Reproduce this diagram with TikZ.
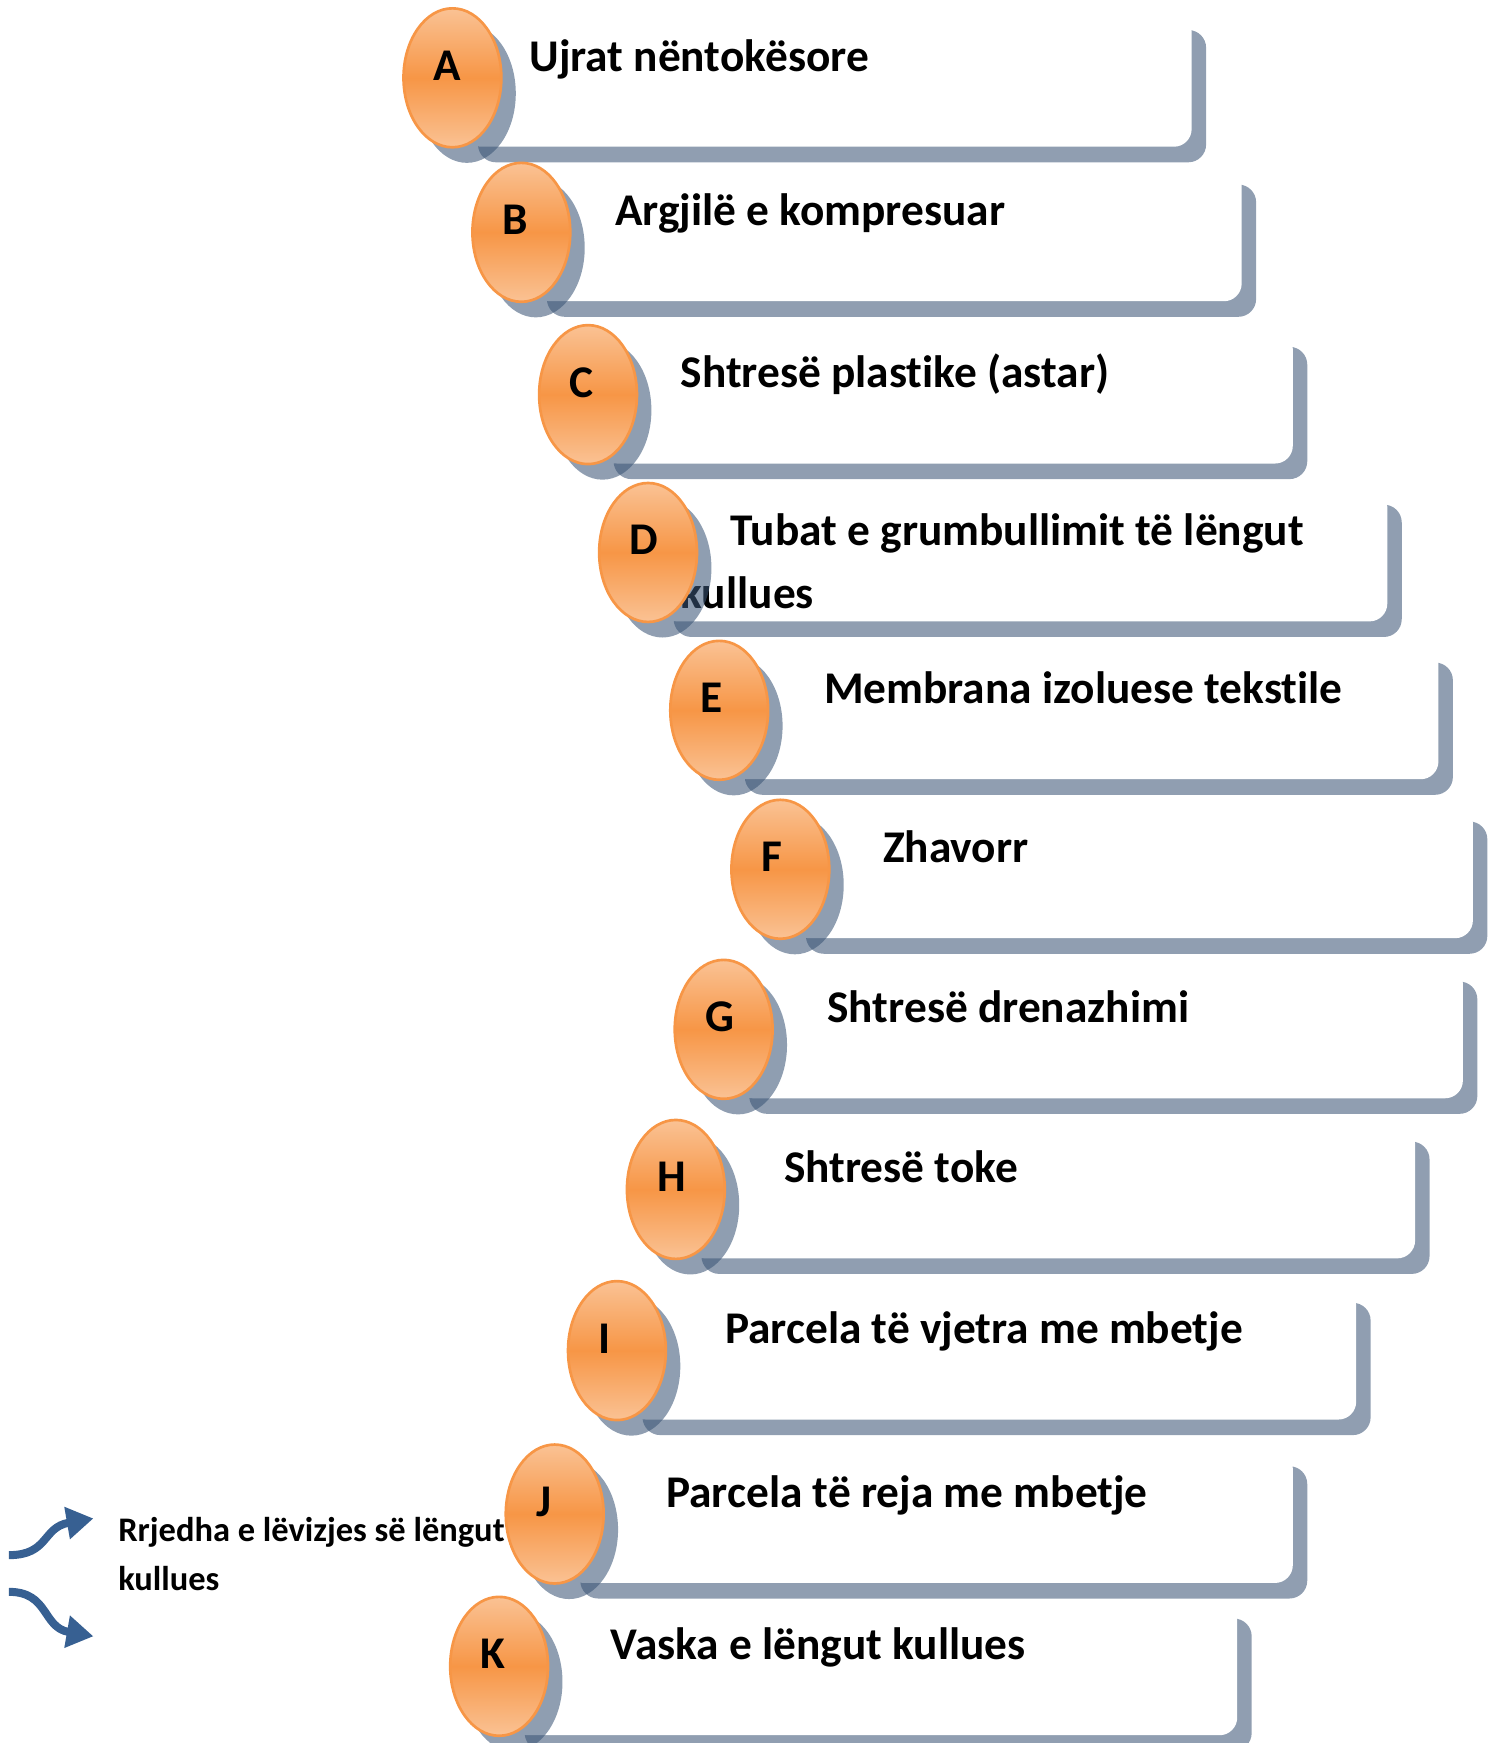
\documentclass[tikz,border=0pt]{standalone}
\usepackage{fontspec}
\setmainfont{Carlito}[Ligatures={NoCommon,NoContextual}]
\usetikzlibrary{arrows.meta, shapes.geometric}
\definecolor{shadowblue}{RGB}{59,85,118}
\definecolor{layerorange}{RGB}{247,150,70}
\definecolor{lightorange}{RGB}{250,194,148}
\definecolor{flowblue}{RGB}{55,96,146}

\begin{document}
\begin{tikzpicture}[
          x=0.5pt, y=-0.5pt,
          layerbox/.style={rounded corners=8pt},
          boxshadow/.style={layerbox, fill=shadowblue, fill opacity=0.57},
          layerdot/.style={ellipse, draw=layerorange, line width=1.2pt,
            minimum width=44pt, minimum height=62.5pt, inner sep=0pt,
            top color=lightorange, bottom color=lightorange, middle color=layerorange},
          dotshadow/.style={ellipse, fill=shadowblue, fill opacity=0.57,
            minimum width=44pt, minimum height=62.5pt, inner sep=0pt},
          layertext/.style={anchor=base west, inner sep=0pt,
            font=\fontsize{20.4}{28}\selectfont\bfseries},
          lettertext/.style={anchor=west, inner sep=0pt, font=\fontsize{20.4}{24}\selectfont\bfseries},
          flowarrow/.style={draw=flowblue, line width=3.6pt,
            -{Triangle[length=12pt, width=14pt]}},
          legendtext/.style={anchor=base west, inner sep=0pt, align=left,
            font=\fontsize{15.5}{22}\selectfont\bfseries}
        ]
        \useasboundingbox (0,0) rectangle (1339,1568);

        % layers, top to bottom
        \foreach \l/\cy/\cx/\r/\tx/\t in {
            A/70/407/1072/476/{Ujrat nëntokësore},
            B/209/469/1117/553/{Argjilë e kompresuar},
            C/355/529/1163/612/{Shtresë plast\kern0pt ike (astar)},
            D/497/583/1248/612/{\vtop{\hbox{\hspace*{22.5pt}Tubat e grumbullimit të lëngut}\hbox{kullues}}},
            E/639/647/1294/741/{Membrana izoluese tekst\kern0pt ile},
            F/782/702/1325/794/{Zhavorr},
            G/926/651/1316/744/{Shtresë drenazhimi},
            H/1070/608/1273/705/{Shtresë toke},
            I/1215/555/1220/652/{Parcela të vjetra me mbetje},
            J/1362/499/1163/599/{Parcela të reja me mbetje},
            K/1499/449/1113/549/{Vaska e lëngut kullues}}{
          \fill[boxshadow] (\cx+23,\cy-43) rectangle (\r+13,\cy+76);
          \fill[white, layerbox] (\cx+10,\cy-57) rectangle (\r,\cy+62);
          \node[layertext] (t\l) at (\tx,\cy-6) {\t};
          \node[dotshadow] (s\l) at (\cx+13,\cy+14) {};
          \node[layerdot] (d\l) at (\cx,\cy) {};
          \node[lettertext] (l\l) at (\cx-17,\cy-11) {\l};
        }

        % legend
        \coordinate (upstart) at (8,1399);
        \coordinate (upend) at (84,1366);
        \coordinate (downstart) at (8,1432);
        \coordinate (downend) at (84,1472);
        \draw[flowarrow] (upstart) .. controls (44,1399) and (38,1374) .. (upend);
        \draw[flowarrow] (downstart) .. controls (44,1432) and (38,1464) .. (downend);
        \node[legendtext] (flow) at (106,1431) {Rrjedha e lëvizjes së lëngut\\kullues};
        \end{tikzpicture}
\end{document}
